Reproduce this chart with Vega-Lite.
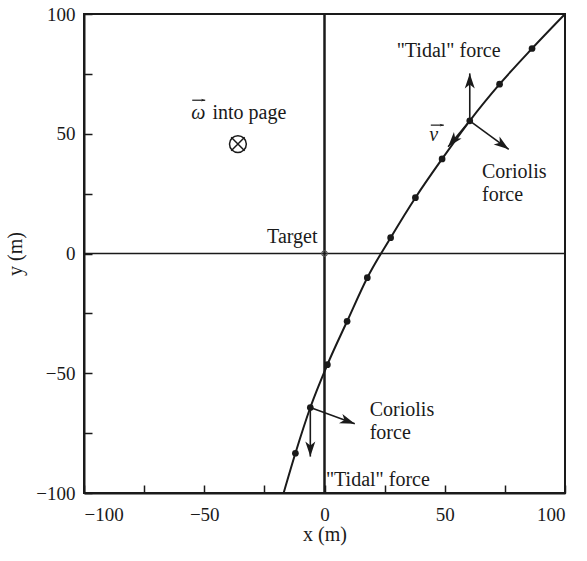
{
  "$schema": "https://vega.github.io/schema/vega-lite/v6.json",
  "autosize": {"type": "none"},
  "padding": {"left": 84, "top": 14, "right": 22, "bottom": 68},
  "width": 481,
  "height": 479,
  "background": "white",
  "config": {
    "view": {"stroke": "#1a1a1a", "strokeWidth": 2},
    "font": "Liberation Serif",
    "axis": {
      "grid": false,
      "domainColor": "#1a1a1a",
      "domainWidth": 2,
      "tickColor": "#1a1a1a",
      "tickWidth": 1.5,
      "tickSize": -8,
      "labelFont": "Liberation Serif",
      "labelFontSize": 19,
      "labelColor": "#1a1a1a",
      "titleFont": "Liberation Serif",
      "titleFontSize": 20,
      "titleFontWeight": "normal",
      "titleColor": "#1a1a1a"
    }
  },
  "datasets": {
    "origin": [{"x": 0, "y": 0}],
    "trajectory": [
      {"x": -17.0, "y": -100},
      {"x": -12.1, "y": -83.4},
      {"x": -5.9, "y": -64.3},
      {"x": 1.2, "y": -46.4},
      {"x": 9.4, "y": -28.3},
      {"x": 17.8, "y": -10.1},
      {"x": 27.5, "y": 6.6},
      {"x": 37.8, "y": 23.3},
      {"x": 48.9, "y": 39.5},
      {"x": 60.4, "y": 55.4},
      {"x": 72.8, "y": 70.7},
      {"x": 86.3, "y": 85.6},
      {"x": 100, "y": 100}
    ],
    "dots": [
      {"x": -12.1, "y": -83.4},
      {"x": -5.9, "y": -64.3},
      {"x": 1.2, "y": -46.4},
      {"x": 9.4, "y": -28.3},
      {"x": 17.8, "y": -10.1},
      {"x": 27.5, "y": 6.6},
      {"x": 37.8, "y": 23.3},
      {"x": 48.9, "y": 39.5},
      {"x": 60.4, "y": 55.4},
      {"x": 72.8, "y": 70.7},
      {"x": 86.3, "y": 85.6}
    ],
    "arrows": [
      {"name": "tidal_top", "x": 60.4, "y": 55.4, "x2": 60.4, "y2": 75.2},
      {"name": "coriolis_top", "x": 60.4, "y": 55.4, "x2": 76.6, "y2": 43.5},
      {"name": "v", "x": 60.4, "y": 55.4, "x2": 51.4, "y2": 44.6},
      {"name": "tidal_bottom", "x": -5.9, "y": -64.3, "x2": -5.9, "y2": -84.8},
      {"name": "coriolis_bottom", "x": -5.9, "y": -64.3, "x2": 12.6, "y2": -71.1}
    ],
    "labels": [
      {"x": 30.0, "y": 84.6, "text": "\"Tidal\" force"},
      {"x": 65.5, "y": 34.1, "text": "Coriolis"},
      {"x": 65.5, "y": 24.6, "text": "force"},
      {"x": 18.8, "y": -65.3, "text": "Coriolis"},
      {"x": 18.8, "y": -74.8, "text": "force"},
      {"x": 0.6, "y": -94.4, "text": "\"Tidal\" force"},
      {"x": -46.6, "y": 58.6, "text": "into page"}
    ],
    "symbols": [
      {"x": -55.4, "y": 58.6, "text": "ω"},
      {"x": 43.6, "y": 49.4, "text": "v"}
    ],
    "vectorArrows": [
      {"x": -55.0, "x2": -49.6, "y": 64.0},
      {"x": 44.2, "x2": 49.6, "y": 53.6}
    ],
    "target": [{"x": 0, "y": 0, "text": "Target"}],
    "omega": [{"x": -36.0, "y": 45.7}]
  },
  "layer": [
    {
      "data": {"name": "origin"},
      "mark": {"type": "rule", "color": "#1a1a1a", "strokeWidth": 1.3},
      "encoding": {
        "y": {"field": "y", "type": "quantitative", "scale": {"domain": [-100, 100], "nice": false}}
      }
    },
    {
      "data": {"name": "origin"},
      "mark": {"type": "rule", "color": "#1a1a1a", "strokeWidth": 2.5},
      "encoding": {
        "x": {"field": "x", "type": "quantitative", "scale": {"domain": [-100, 100], "nice": false}}
      }
    },
    {
      "data": {"name": "trajectory"},
      "mark": {"type": "line", "color": "#1a1a1a", "strokeWidth": 2, "interpolate": "monotone", "clip": true},
      "encoding": {
        "x": {
          "field": "x", "type": "quantitative",
          "scale": {"domain": [-100, 100], "nice": false},
          "axis": {
            "values": [-100, -75, -50, -25, 0, 25, 50, 75, 100],
            "labelExpr": "datum.value % 50 === 0 ? datum.label : ''",
            "labelPadding": 20,
            "title": "x (m)",
            "titlePadding": 0
          }
        },
        "y": {
          "field": "y", "type": "quantitative",
          "scale": {"domain": [-100, 100], "nice": false},
          "axis": {
            "values": [-100, -75, -50, -25, 0, 25, 50, 75, 100],
            "labelExpr": "datum.value % 50 === 0 ? datum.label : ''",
            "labelPadding": 17,
            "title": "y (m)",
            "titlePadding": 10
          }
        },
        "order": {"field": "y", "type": "quantitative"}
      }
    },
    {
      "data": {"name": "dots"},
      "mark": {"type": "point", "filled": true, "color": "#1a1a1a", "size": 45, "opacity": 1},
      "encoding": {
        "x": {"field": "x", "type": "quantitative"},
        "y": {"field": "y", "type": "quantitative"}
      }
    },
    {
      "data": {"name": "arrows"},
      "mark": {"type": "rule", "color": "#1a1a1a", "strokeWidth": 1.6},
      "encoding": {
        "x": {"field": "x", "type": "quantitative"},
        "y": {"field": "y", "type": "quantitative"},
        "x2": {"field": "x2"},
        "y2": {"field": "y2"}
      }
    },
    {
      "data": {"name": "arrows"},
      "transform": [{"filter": "datum.name === 'tidal_top'"}],
      "mark": {"type": "point", "shape": "M0,0 L0.5,1.5 L0,1.1 L-0.5,1.5 Z", "filled": true, "color": "#1a1a1a", "opacity": 1, "size": 400, "angle": 0},
      "encoding": {
        "x": {"field": "x2", "type": "quantitative"},
        "y": {"field": "y2", "type": "quantitative"}
      }
    },
    {
      "data": {"name": "arrows"},
      "transform": [{"filter": "datum.name === 'coriolis_top'"}],
      "mark": {"type": "point", "shape": "M0,0 L0.5,1.5 L0,1.1 L-0.5,1.5 Z", "filled": true, "color": "#1a1a1a", "opacity": 1, "size": 400, "angle": 126},
      "encoding": {
        "x": {"field": "x2", "type": "quantitative"},
        "y": {"field": "y2", "type": "quantitative"}
      }
    },
    {
      "data": {"name": "arrows"},
      "transform": [{"filter": "datum.name === 'v'"}],
      "mark": {"type": "point", "shape": "M0,0 L0.5,1.5 L0,1.1 L-0.5,1.5 Z", "filled": true, "color": "#1a1a1a", "opacity": 1, "size": 400, "angle": 220},
      "encoding": {
        "x": {"field": "x2", "type": "quantitative"},
        "y": {"field": "y2", "type": "quantitative"}
      }
    },
    {
      "data": {"name": "arrows"},
      "transform": [{"filter": "datum.name === 'tidal_bottom'"}],
      "mark": {"type": "point", "shape": "M0,0 L0.5,1.5 L0,1.1 L-0.5,1.5 Z", "filled": true, "color": "#1a1a1a", "opacity": 1, "size": 400, "angle": 180},
      "encoding": {
        "x": {"field": "x2", "type": "quantitative"},
        "y": {"field": "y2", "type": "quantitative"}
      }
    },
    {
      "data": {"name": "arrows"},
      "transform": [{"filter": "datum.name === 'coriolis_bottom'"}],
      "mark": {"type": "point", "shape": "M0,0 L0.5,1.5 L0,1.1 L-0.5,1.5 Z", "filled": true, "color": "#1a1a1a", "opacity": 1, "size": 400, "angle": 110},
      "encoding": {
        "x": {"field": "x2", "type": "quantitative"},
        "y": {"field": "y2", "type": "quantitative"}
      }
    },
    {
      "data": {"name": "target"},
      "mark": {"type": "point", "shape": "circle", "filled": false, "color": "#555555", "strokeWidth": 1.2, "size": 30, "opacity": 1},
      "encoding": {
        "x": {"field": "x", "type": "quantitative"},
        "y": {"field": "y", "type": "quantitative"}
      }
    },
    {
      "data": {"name": "target"},
      "mark": {"type": "text", "align": "right", "baseline": "middle", "fontSize": 20, "color": "#1a1a1a", "dx": -7, "dy": -17},
      "encoding": {
        "x": {"field": "x", "type": "quantitative"},
        "y": {"field": "y", "type": "quantitative"},
        "text": {"field": "text"}
      }
    },
    {
      "data": {"name": "labels"},
      "mark": {"type": "text", "align": "left", "baseline": "middle", "fontSize": 20, "color": "#1a1a1a"},
      "encoding": {
        "x": {"field": "x", "type": "quantitative"},
        "y": {"field": "y", "type": "quantitative"},
        "text": {"field": "text"}
      }
    },
    {
      "data": {"name": "symbols"},
      "mark": {"type": "text", "align": "left", "baseline": "middle", "fontSize": 20, "fontStyle": "italic", "color": "#1a1a1a"},
      "encoding": {
        "x": {"field": "x", "type": "quantitative"},
        "y": {"field": "y", "type": "quantitative"},
        "text": {"field": "text"}
      }
    },
    {
      "data": {"name": "vectorArrows"},
      "mark": {"type": "rule", "color": "#1a1a1a", "strokeWidth": 1.2},
      "encoding": {
        "x": {"field": "x", "type": "quantitative"},
        "x2": {"field": "x2"},
        "y": {"field": "y", "type": "quantitative"}
      }
    },
    {
      "data": {"name": "vectorArrows"},
      "mark": {"type": "point", "shape": "M0,0 L0.5,1.5 L0,1.1 L-0.5,1.5 Z", "filled": true, "color": "#1a1a1a", "opacity": 1, "size": 30, "angle": 90},
      "encoding": {
        "x": {"field": "x2", "type": "quantitative"},
        "y": {"field": "y", "type": "quantitative"}
      }
    },
    {
      "data": {"name": "omega"},
      "mark": {"type": "point", "shape": "circle", "filled": false, "color": "#1a1a1a", "strokeWidth": 1.5, "size": 283, "opacity": 1},
      "encoding": {
        "x": {"field": "x", "type": "quantitative"},
        "y": {"field": "y", "type": "quantitative"}
      }
    },
    {
      "data": {"name": "omega"},
      "mark": {"type": "point", "shape": "M-1,-1L1,1M-1,1L1,-1", "filled": false, "color": "#1a1a1a", "strokeWidth": 1.5, "size": 180, "opacity": 1},
      "encoding": {
        "x": {"field": "x", "type": "quantitative"},
        "y": {"field": "y", "type": "quantitative"}
      }
    }
  ]
}
